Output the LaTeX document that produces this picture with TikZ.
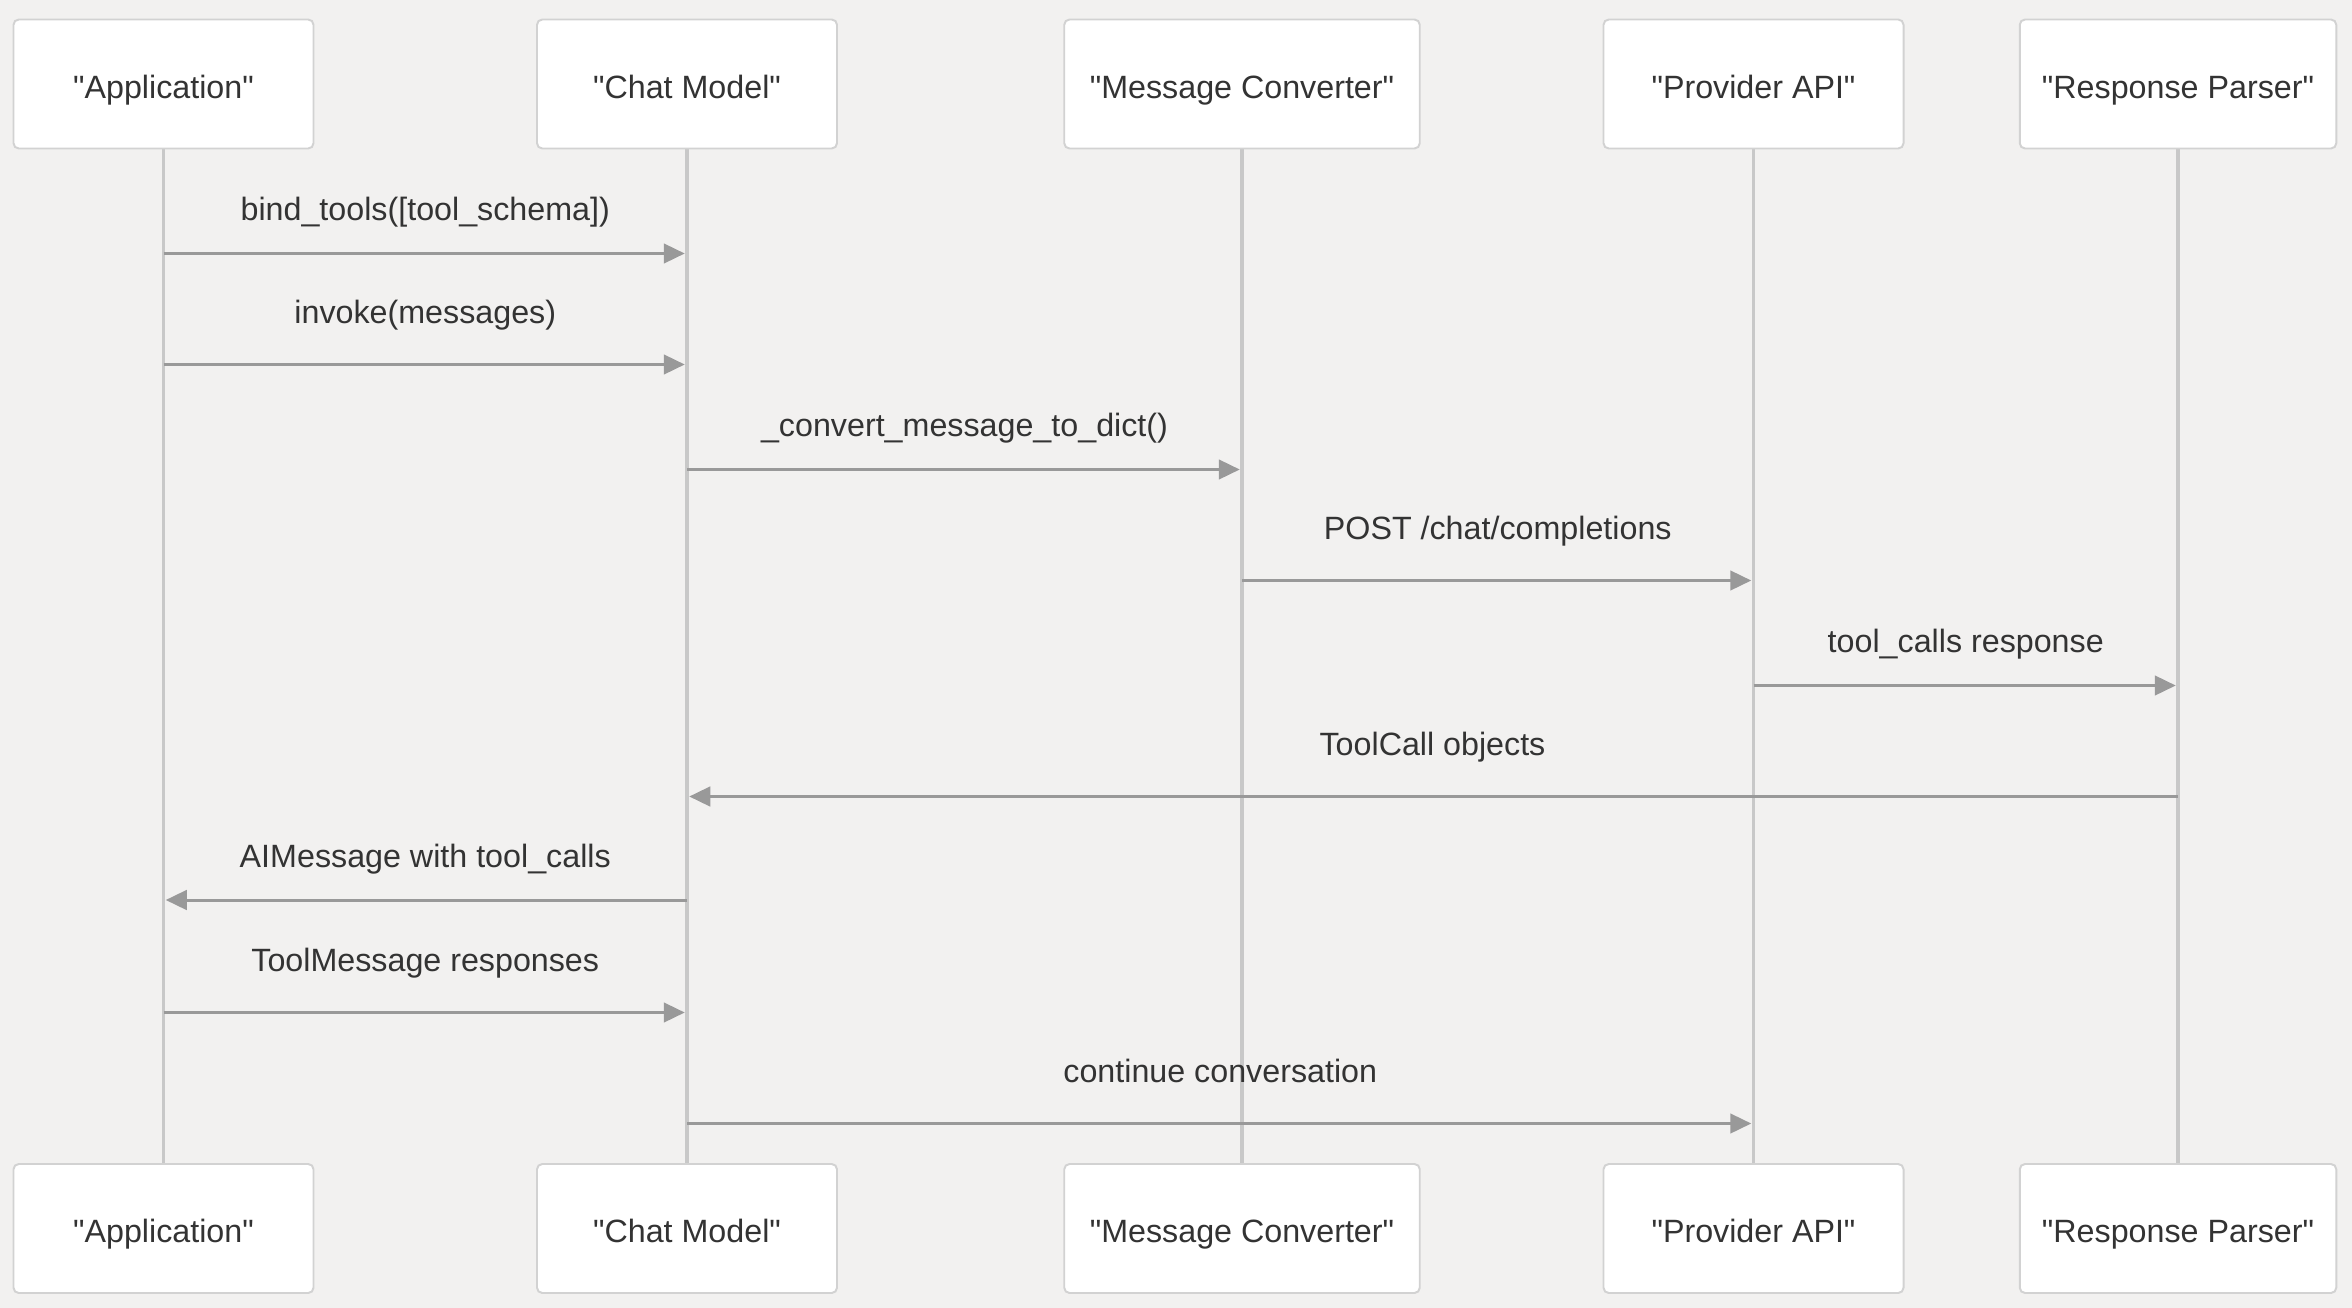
\documentclass[tikz,border=0pt]{standalone}
\usepackage{fontspec}
\setmainfont{Liberation Sans}[Ligatures=TeXOff]
\usetikzlibrary{arrows.meta,backgrounds,positioning}
\definecolor{bgc}{HTML}{F2F1F0}
\definecolor{boxline}{HTML}{D2D2D2}
\definecolor{lifeline}{HTML}{C8C8C8}
\definecolor{arrowc}{HTML}{999999}
\definecolor{txt}{HTML}{333333}

\begin{document}
\begin{tikzpicture}[x=1pt, y=-1pt,
    actor/.style={draw=boxline, fill=white, rounded corners=3.5pt, line width=1.3pt,
      minimum height=86pt, text height=23pt, text depth=4.2pt, inner ysep=0pt,
      text=txt, font=\fontsize{21.5}{26}\selectfont},
    life/.style={draw=lifeline, line width=2.3pt},
    msg/.style={draw=arrowc, line width=2pt, shorten >=1.5pt,
      -{Triangle[length=14pt,width=13pt]}},
    msglabel/.style={midway, anchor=base, yshift=22pt, text=txt,
      font=\fontsize{21.5}{26}\selectfont},
    msglabelhi/.style={msglabel, yshift=5.5pt}]
  \useasboundingbox (0,0) rectangle (1568,872);
  \node[actor, minimum width=200pt] (appT) at (109,56) {"Application"};
  \node[actor, minimum width=200pt] (chatT) at (458,56) {"Chat Model"};
  \node[actor, minimum width=237pt] (convT) at (828,56) {"Message Converter"};
  \node[actor, minimum width=200pt] (provT) at (1169,56) {"Provider API"};
  \node[actor, minimum width=211pt] (parsT) at (1452,56) {"Response Parser"};
  \node[actor, minimum width=200pt] (appB) at (109,819) {"Application"};
  \node[actor, minimum width=200pt] (chatB) at (458,819) {"Chat Model"};
  \node[actor, minimum width=237pt] (convB) at (828,819) {"Message Converter"};
  \node[actor, minimum width=200pt] (provB) at (1169,819) {"Provider API"};
  \node[actor, minimum width=211pt] (parsB) at (1452,819) {"Response Parser"};
  \begin{scope}[on background layer]
    \fill[bgc] (0,0) rectangle (1568,872);
    \draw[life] (appT) -- (appB);
    \draw[life] (chatT) -- (chatB);
    \draw[life] (convT) -- (convB);
    \draw[life] (provT) -- (provB);
    \draw[life] (parsT) -- (parsB);
  \end{scope}
  \draw[msg] (appT |- 0,169) -- node[msglabel] {bind\_tools([tool\_schema])} (chatT |- 0,169);
  \draw[msg] (appT |- 0,243) -- node[msglabelhi] {invoke(messages)} (chatT |- 0,243);
  \draw[msg] (chatT |- 0,313) -- node[msglabel] {\_convert\_message\_to\_dict()} (convT |- 0,313);
  \draw[msg] (convT |- 0,387) -- node[msglabelhi] {POST /chat/completions} (provT |- 0,387);
  \draw[msg] (provT |- 0,457) -- node[msglabel] {tool\_calls response} (parsT |- 0,457);
  \draw[msg] (parsT |- 0,531) -- node[msglabelhi] {ToolCall objects} (chatT |- 0,531);
  \draw[msg] (chatT |- 0,600) -- node[msglabel] {AIMessage with tool\_calls} (appT |- 0,600);
  \draw[msg] (appT |- 0,675) -- node[msglabelhi] {ToolMessage responses} (chatT |- 0,675);
  \draw[msg] (chatT |- 0,749) -- node[msglabelhi] {continue conversation} (provT |- 0,749);
\end{tikzpicture}
\end{document}
